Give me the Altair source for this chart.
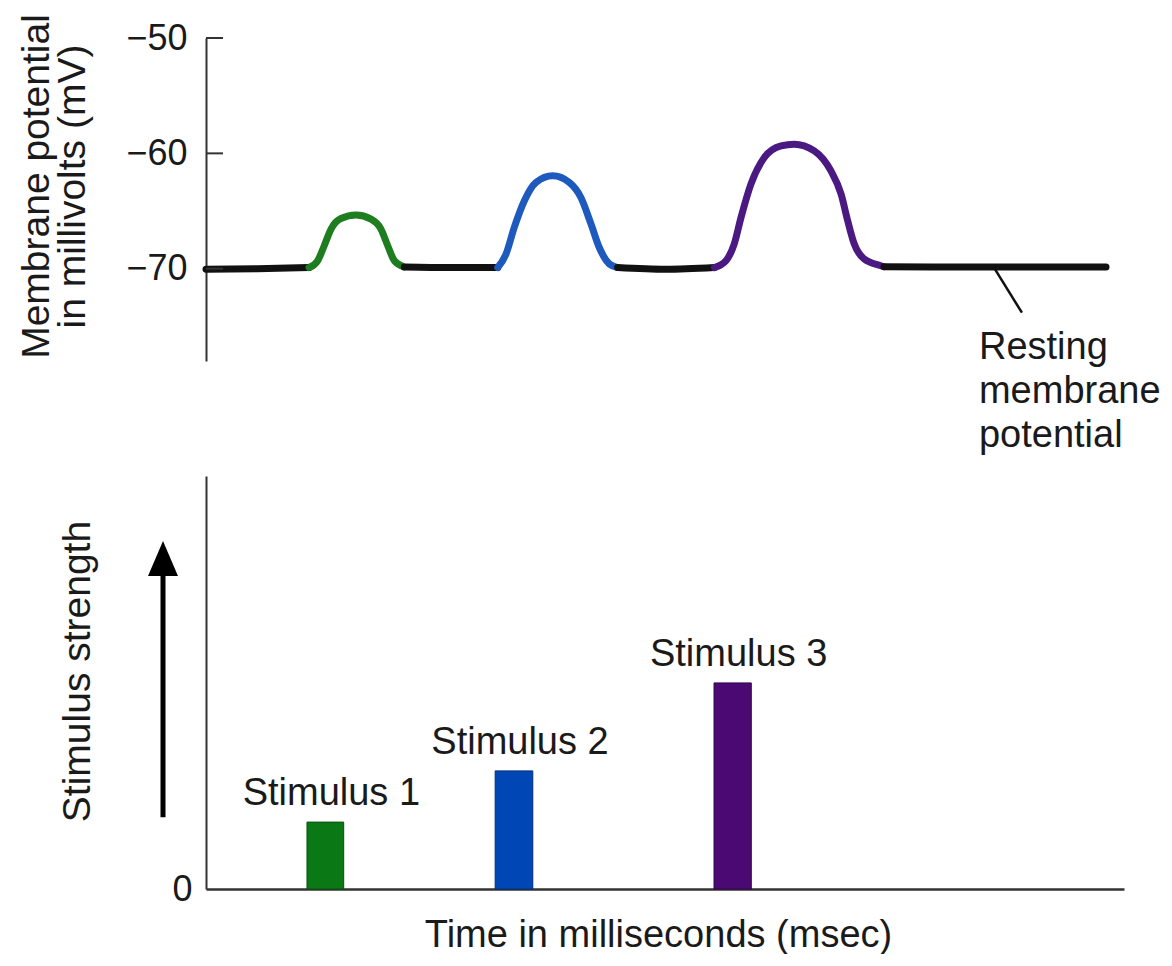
import altair as alt
import pandas as pd

FONT = "Liberation Sans"

# ---- membrane potential trace (time in ms, potential in mV) ----
black1_t = [0.0, 2.8, 5.61]
black1_v = [-70.05, -70.0, -69.9]
green_t = [5.61, 6.08, 6.44, 6.81, 7.35, 8.17, 8.99, 9.53, 9.90, 10.26, 10.80]
green_v = [-69.9, -69.31, -68.01, -66.56, -65.65, -65.35, -65.70, -66.56, -68.01, -69.31, -69.85]
black2_t = [10.80, 13.3, 15.89]
black2_v = [-69.85, -69.9, -69.9]
blue_t = [15.89, 16.34, 16.79, 17.34, 17.97, 18.88, 19.79, 20.42, 20.97, 21.42, 21.97, 22.42]
blue_v = [-69.9, -68.73, -66.42, -64.11, -62.53, -61.95, -62.53, -63.83, -66.13, -68.16, -69.59, -69.9]
black3_t = [22.42, 25.05, 27.69]
black3_v = [-69.9, -70.05, -69.9]
purple_t = [27.69, 28.32, 28.77, 29.14, 29.68, 30.41, 31.32, 32.04, 33.13, 34.04, 34.59, 34.95,
            35.31, 35.85, 36.76, 36.93]
purple_v = [-69.9, -69.31, -67.86, -65.56, -62.67, -60.36, -59.35, -59.20, -59.78, -61.52, -63.53,
            -65.84, -67.86, -69.16, -69.74, -69.83]
black4_t = [36.93, 43.0, 49.02]
black4_v = [-69.83, -69.85, -69.85]

segments = ["black1", "green", "black2", "blue", "black3", "purple", "black4"]
seg_colors = ["#111111", "#1e7d1e", "#111111", "#1e5abe", "#111111", "#4b1982", "#111111"]

y_ticks = [-50, -60, -70]

# resting membrane potential annotation
pointer_t = [42.92]
pointer_v = [-69.91]
pointer_t2 = [44.44]
pointer_v2 = [-73.81]
rest_label_t = [42.1]
rest_label_v = [-77.79]

# ---- stimuli ----
stim_names = ["Stimulus 1", "Stimulus 2", "Stimulus 3"]
stim_start = [5.5, 15.75, 27.67]
stim_end = [7.5, 17.8, 29.7]
stim_strength = [1.62, 2.86, 4.99]
stim_colors = ["#0a7814", "#0046b4", "#4b0a73"]
stim_strokes = ["#06520d", "#00307d", "#300549"]

arrow_base = [1.74]
arrow_shaft_top = [7.8]
arrow_head_mid = [8.0]

# ---- build tables ----
rows = []
for name, ts, vs in [("black1", black1_t, black1_v), ("green", green_t, green_v),
                     ("black2", black2_t, black2_v), ("blue", blue_t, blue_v),
                     ("black3", black3_t, black3_v), ("purple", purple_t, purple_v),
                     ("black4", black4_t, black4_v)]:
    for t, v in zip(ts, vs):
        rows.append({"t": t, "mv": v, "seg": name})
trace_df = pd.DataFrame(rows)

X_DOMAIN = [0, 50]
W = 918

xs = alt.Scale(domain=X_DOMAIN, nice=False, zero=False)
ys_top = alt.Scale(domain=[-78, -50], nice=False, zero=False)

trace = alt.Chart(trace_df).mark_line(strokeWidth=7, strokeCap="round", interpolate="monotone").encode(
    x=alt.X("t:Q", scale=xs, axis=None),
    y=alt.Y("mv:Q", scale=ys_top,
            axis=alt.Axis(values=y_ticks, ticks=False, tickSize=0, grid=False,
                          labelPadding=19, labelFontSize=36,
                          labelExpr="'\u2212' + abs(datum.value)",
                          domainColor="#333333", domainWidth=2,
                          title=["Membrane potential", "in millivolts (mV)"],
                          titleFontSize=39, titleFontWeight="normal",
                          titleAngle=270, titleBaseline="alphabetic", titleAlign="center",
                          titleLineHeight=36, titleX=-158, titleY=148)),
    color=alt.Color("seg:N", scale=alt.Scale(domain=segments, range=seg_colors), legend=None),
    detail="seg:N",
)

ticks_df = pd.DataFrame({"mv": y_ticks})
tick_marks = alt.Chart(ticks_df).mark_rule(color="#333333", strokeWidth=2).encode(
    y=alt.Y("mv:Q", scale=ys_top),
    x=alt.value(0),
    x2=alt.value(17),
)

pointer_df = pd.DataFrame({"t": pointer_t, "mv": pointer_v, "t2": pointer_t2, "mv2": pointer_v2})
pointer = alt.Chart(pointer_df).mark_rule(color="#111111", strokeWidth=2.5).encode(
    x=alt.X("t:Q", scale=xs, axis=None),
    y=alt.Y("mv:Q", scale=ys_top),
    x2="t2:Q",
    y2="mv2:Q",
)

rest_df = pd.DataFrame({"t": rest_label_t, "mv": rest_label_v})
rest_text = alt.Chart(rest_df).mark_text(
    text=["Resting", "membrane", "potential"], align="left", baseline="alphabetic",
    lineHeight=44, fontSize=38, font=FONT, color="#1a1a1a"
).encode(
    x=alt.X("t:Q", scale=xs, axis=None),
    y=alt.Y("mv:Q", scale=ys_top),
)

top = alt.layer(trace, tick_marks, pointer, rest_text).properties(width=W, height=323)

# bottom panel
stim_df = pd.DataFrame({"name": stim_names, "start": stim_start, "end": stim_end,
                        "strength": stim_strength})
ys_bot = alt.Scale(domain=[0, 10], nice=False)

bars = alt.Chart(stim_df).mark_bar(strokeWidth=1).encode(
    x=alt.X("start:Q", scale=xs,
            axis=alt.Axis(labels=False, ticks=False, grid=False,
                          domainColor="#333333", domainWidth=2.5,
                          title="Time in milliseconds (msec)", titleFontSize=38,
                          titleFontWeight="normal", titleBaseline="alphabetic",
                          titleAlign="center", titleX=452, titleY=57)),
    x2="end:Q",
    y=alt.Y("strength:Q", scale=ys_bot,
            axis=alt.Axis(values=[0], ticks=False, tickSize=0, grid=False,
                          labelPadding=14, labelFontSize=36,
                          domainColor="#333333", domainWidth=2,
                          title="Stimulus strength", titleFontSize=39,
                          titleFontWeight="normal", titleAngle=270,
                          titleBaseline="alphabetic", titleAlign="center",
                          titleX=-117, titleY=195)),
    y2=alt.datum(0),
    fill=alt.Fill("name:N", scale=alt.Scale(domain=stim_names, range=stim_colors), legend=None),
    stroke=alt.Stroke("name:N", scale=alt.Scale(domain=stim_names, range=stim_strokes), legend=None),
)

labels = alt.Chart(stim_df).transform_calculate(
    mid="(datum.start + datum.end) / 2"
).mark_text(fontSize=38, font=FONT, dy=-17, dx=6, baseline="alphabetic",
            align="center", color="#1a1a1a").encode(
    x=alt.X("mid:Q", scale=xs),
    y=alt.Y("strength:Q", scale=ys_bot),
    text="name:N",
)

arrow_df = pd.DataFrame({"base": arrow_base, "top": arrow_shaft_top, "mid": arrow_head_mid})
shaft = alt.Chart(arrow_df).mark_rule(color="#000000", strokeWidth=5).encode(
    x=alt.value(-43),
    y=alt.Y("base:Q", scale=ys_bot),
    y2="top:Q",
)
head = alt.Chart(arrow_df).mark_point(
    shape="M0,-1L0.857,1L-0.857,1Z", size=1225, filled=True, fill="#000000",
    stroke=None, opacity=1
).encode(
    x=alt.value(-43),
    y=alt.Y("mid:Q", scale=ys_bot),
)

bottom = alt.layer(bars, labels, shaft, head).properties(width=W, height=413)

chart = alt.vconcat(top, bottom, spacing=115, bounds="flush").properties(
    padding={"left": 9, "top": 5, "right": 2, "bottom": 0},
    background="#ffffff",
).configure_view(stroke=None).configure_axis(
    labelFont=FONT, titleFont=FONT, labelColor="#1a1a1a", titleColor="#1a1a1a"
).configure_text(font=FONT)

chart.save("out.html", embed_options={"renderer": "svg", "actions": False})
